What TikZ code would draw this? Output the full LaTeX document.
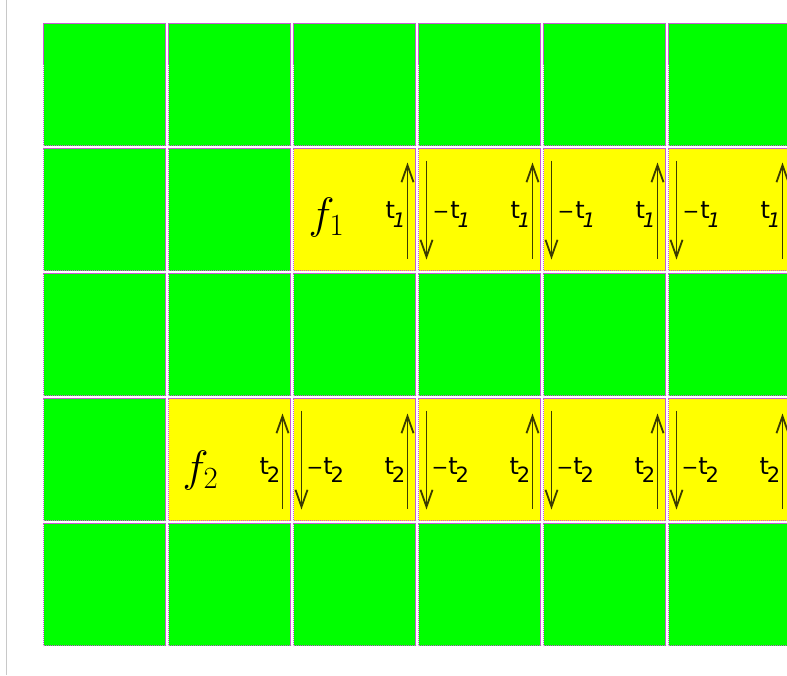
\RequirePackage{fix-cm}
\documentclass[tikz,border=0pt]{standalone}
\usepackage{fontspec}
\newfontfamily\tfont{DejaVu Sans}
\usetikzlibrary{arrows.meta,calc}
\definecolor{cellgreen}{RGB}{0,255,0}
\definecolor{cellyellow}{RGB}{255,255,0}
\definecolor{cellborder}{RGB}{200,90,210}
\definecolor{arrowcol}{RGB}{60,60,0}
\definecolor{leftrule}{RGB}{200,200,200}
\newcommand\tone{t\kern-2pt\raisebox{-9pt}{\fontsize{20}{20}\selectfont\itshape 1}}
\newcommand\ttwo{t\kern-2pt\raisebox{-8pt}{\fontsize{21}{21}\selectfont 2}}
\begin{document}
\begin{tikzpicture}[x=1pt,y=-1pt,
  cellbox/.style={draw=cellborder, dash pattern=on 1.2pt off 0.8pt, line width=0.9pt,
    minimum width=122pt, minimum height=122pt, inner sep=0pt, outer sep=0pt},
  vec/.style={draw=arrowcol, line width=1.6pt, -{Straight Barb[length=17pt,width=12pt,line width=1.8pt]}},
  tlab/.style={anchor=base west, inner sep=0pt, outer sep=0pt, font=\tfont\fontsize{24}{24}\selectfont},
  mlab/.style={anchor=base west, inner sep=0pt, outer sep=0pt, font=\tfont\fontsize{24}{24}\selectfont},
  flab/.style={anchor=base west, inner sep=0pt, outer sep=0pt, font=\fontsize{44}{48}\selectfont}]
\useasboundingbox (0,0) rectangle (787,675);
\clip (0,0) rectangle (787,675);
\fill[white] (0,0) rectangle (787,675);
\draw[leftrule, line width=1.3pt] (6.5,0) -- (6.5,675);
% grid of cells
\foreach \j in {1,...,5}{\foreach \i in {1,...,6}{
  \def\cf{cellgreen}
  \ifnum\j=2 \ifnum\i>2 \def\cf{cellyellow}\fi\fi
  \ifnum\j=4 \ifnum\i>1 \def\cf{cellyellow}\fi\fi
  \node[cellbox, fill=\cf] (c\i\j) at ({43+125*(\i-1)+61.5},{23+125*(\j-1)+61.5}) {};
}}
% row 2 : f1
\node[flab] (f1) at ($(c32.north west)+(15,80)$) {$f_1$};
\foreach \i in {3,...,6}{
  \coordinate (ub\i2) at ($(c\i2.north east)+(-8,110)$);
  \coordinate (ut\i2) at ($(c\i2.north east)+(-8,14)$);
  \draw[vec] (ub\i2) -- (ut\i2);
  \node[tlab] (tr\i2) at ($(c\i2.north west)+(92,70)$) {\tone};
}
\foreach \i in {4,...,6}{
  \coordinate (dt\i2) at ($(c\i2.north west)+(8,12)$);
  \coordinate (db\i2) at ($(c\i2.north west)+(8,111)$);
  \draw[vec] (dt\i2) -- (db\i2);
  \node[mlab] (tl\i2) at ($(c\i2.north west)+(14,70)$) {{\fontsize{20}{20}\selectfont −}\kern1pt\tone};
}
% row 4 : f2
\node[flab] (f2) at ($(c24.north west)+(14,83)$) {$f_2$};
\foreach \i in {2,...,6}{
  \coordinate (ub\i4) at ($(c\i4.north east)+(-8,110)$);
  \coordinate (ut\i4) at ($(c\i4.north east)+(-8,15)$);
  \draw[vec] (ub\i4) -- (ut\i4);
  \node[tlab] (tr\i4) at ($(c\i4.north west)+(91,76)$) {\ttwo};
}
\foreach \i in {3,...,6}{
  \coordinate (dt\i4) at ($(c\i4.north west)+(8,12)$);
  \coordinate (db\i4) at ($(c\i4.north west)+(8,111)$);
  \draw[vec] (dt\i4) -- (db\i4);
  \node[mlab] (tl\i4) at ($(c\i4.north west)+(13,76)$) {{\fontsize{20}{20}\selectfont −}\kern0pt\ttwo};
}
\end{tikzpicture}
\end{document}
